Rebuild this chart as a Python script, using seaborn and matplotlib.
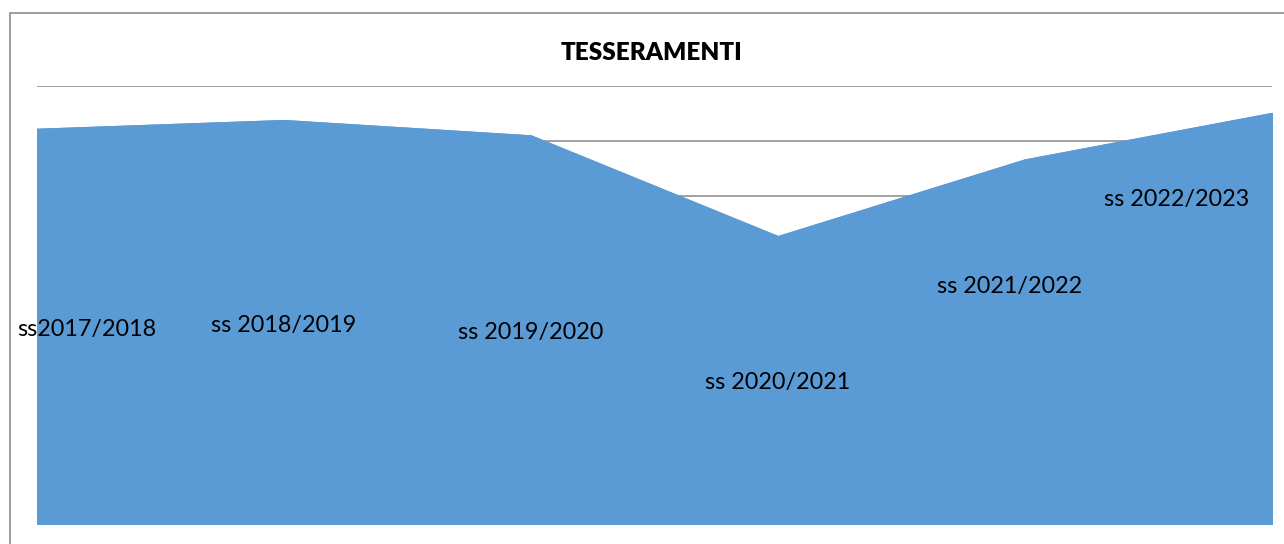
import matplotlib
matplotlib.use("Agg")
import matplotlib.pyplot as plt
import seaborn as sns
import pandas as pd
from matplotlib.patches import Rectangle

# ---- data ----
seasons = ["ss2017/2018", "ss 2018/2019", "ss 2019/2020", "ss 2020/2021", "ss 2021/2022", "ss 2022/2023"]
values = [721, 737, 709, 525, 665, 750]
title = "TESSERAMENTI"

df = pd.DataFrame({"pos": range(len(seasons)), "season": seasons, "value": values})

sns.set_theme(style="white")
plt.rcParams["font.family"] = ["Lato", "DejaVu Sans"]

fig = plt.figure(figsize=(12.84, 5.44), dpi=100)
fig.patch.set_facecolor("white")
ax = fig.add_axes([37 / 1284, 20 / 544, 1235 / 1284, 438 / 544])

fill_color = "#5B9BD5"
ax.set_ylim(0, 800)
ax.set_xlim(0, len(seasons) - 1)
for yv in range(100, 801, 100):
    ax.axhline(yv, color="#878787", lw=1.1, zorder=0)

ax.fill_between(df["pos"], 0, df["value"], facecolor=fill_color,
                edgecolor=fill_color, lw=1.5, zorder=2)
sns.lineplot(data=df, x="pos", y="value", ax=ax, color=fill_color, lw=0.8, zorder=3)

# label offsets in pixels (label placement as in the original chart)
offsets = [(50, -3), (0, -3), (0, -3), (0, -2), (-15, 55), (-95, 119)]
for i, (s, v) in enumerate(zip(seasons, values)):
    ax.annotate(s, (i, v / 2), xytext=offsets[i], textcoords="offset pixels",
                ha="center", va="center", fontsize=16.8, color="black",
                annotation_clip=False, zorder=5)

ax.set_xticks([])
ax.set_yticks([])
ax.set_xlabel("")
ax.set_ylabel("")
for sp in ax.spines.values():
    sp.set_visible(False)

fig.text(652 / 1284, 1 - 53 / 544, title, ha="center", va="center",
         fontsize=17.5, fontweight="heavy", color="black")

fig.patches.append(Rectangle((9.5 / 1284, -0.1), 1.2, 1.1 - 13 / 544 + 0.0,
                             transform=fig.transFigure, fill=False,
                             edgecolor="#8c8c8c", lw=1.2, zorder=10))

fig.savefig("out.png", dpi=100, facecolor="white")
